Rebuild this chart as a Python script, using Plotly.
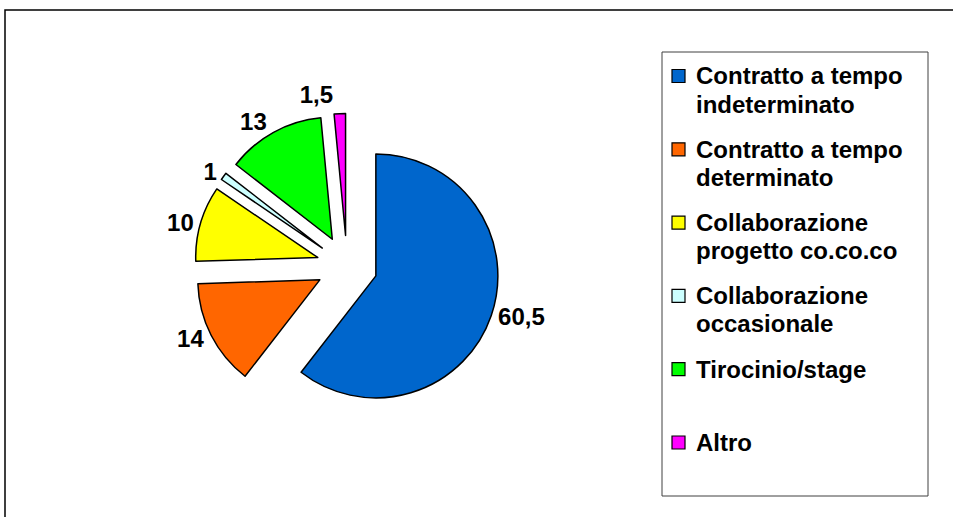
import plotly.graph_objects as go

# share of contract types (%)
labels = ["Contratto a tempo<br>indeterminato", "Contratto a tempo<br>determinato",
          "Collaborazione<br>progetto co.co.co", "Collaborazione<br>occasionale",
          "Tirocinio/stage", "Altro"]
values = [60.5, 14, 10, 1, 13, 1.5]
colors = ["#0066CC", "#FF6600", "#FFFF00", "#CCFFFF", "#00FF00", "#FF00FF"]

W, H = 953, 517
FONT = "Liberation Sans, Arial, sans-serif"


def px(x):
    return x / W


def py(y):
    return 1 - y / H


text = [f"{v:g}".replace(".", ",") for v in values]

fig = go.Figure(go.Pie(
    labels=[l.replace("<br>", " ") for l in labels], values=values,
    text=text, textinfo="text", textposition="outside",
    sort=False, direction="clockwise", rotation=0,
    pull=0.25,
    marker=dict(colors=colors, line=dict(color="black", width=1.5)),
    textfont=dict(family=FONT, size=24, color="black", weight="bold"),
    domain=dict(x=[px(347 - 152.5), px(347 + 152.5)], y=[py(266 + 152.5), py(266 - 152.5)]),
    showlegend=False,
    hoverinfo="label+value",
))

shapes = [
    # outer chart frame
    dict(type="rect", xref="paper", yref="paper", x0=px(5), x1=px(960), y0=py(525), y1=py(10),
         line=dict(color="black", width=1.5), fillcolor="rgba(0,0,0,0)"),
    # legend box
    dict(type="rect", xref="paper", yref="paper", x0=px(662), x1=px(928), y0=py(496), y1=py(52),
         line=dict(color="#404040", width=1), fillcolor="white"),
]
annotations = []
row_h = 73.3
for i, (lab, col) in enumerate(zip(labels, colors)):
    yc = 76 + i * row_h
    shapes.append(dict(type="rect", xref="paper", yref="paper",
                       x0=px(672), x1=px(685), y0=py(yc + 6.5), y1=py(yc - 6.5),
                       line=dict(color="black", width=1.2), fillcolor=col))
    for j, line in enumerate(lab.split("<br>")):
        annotations.append(dict(text=line, xref="paper", yref="paper",
                                x=px(694), y=py(yc + j * 28), xanchor="left", yanchor="middle",
                                showarrow=False,
                                font=dict(family=FONT, size=24, color="black", weight="bold")))

fig.update_layout(
    width=W, height=H,
    margin=dict(l=0, r=0, t=0, b=0),
    paper_bgcolor="white",
    plot_bgcolor="white",
    shapes=shapes,
    annotations=annotations,
)

# drop the default page margin; hide pie leader lines (the original has none)
js = ("document.body.style.margin='0';"
      "document.querySelectorAll('.textline').forEach(function(e){e.style.display='none';});")
fig.write_html("out.html", post_script=js, config={"displayModeBar": False})
